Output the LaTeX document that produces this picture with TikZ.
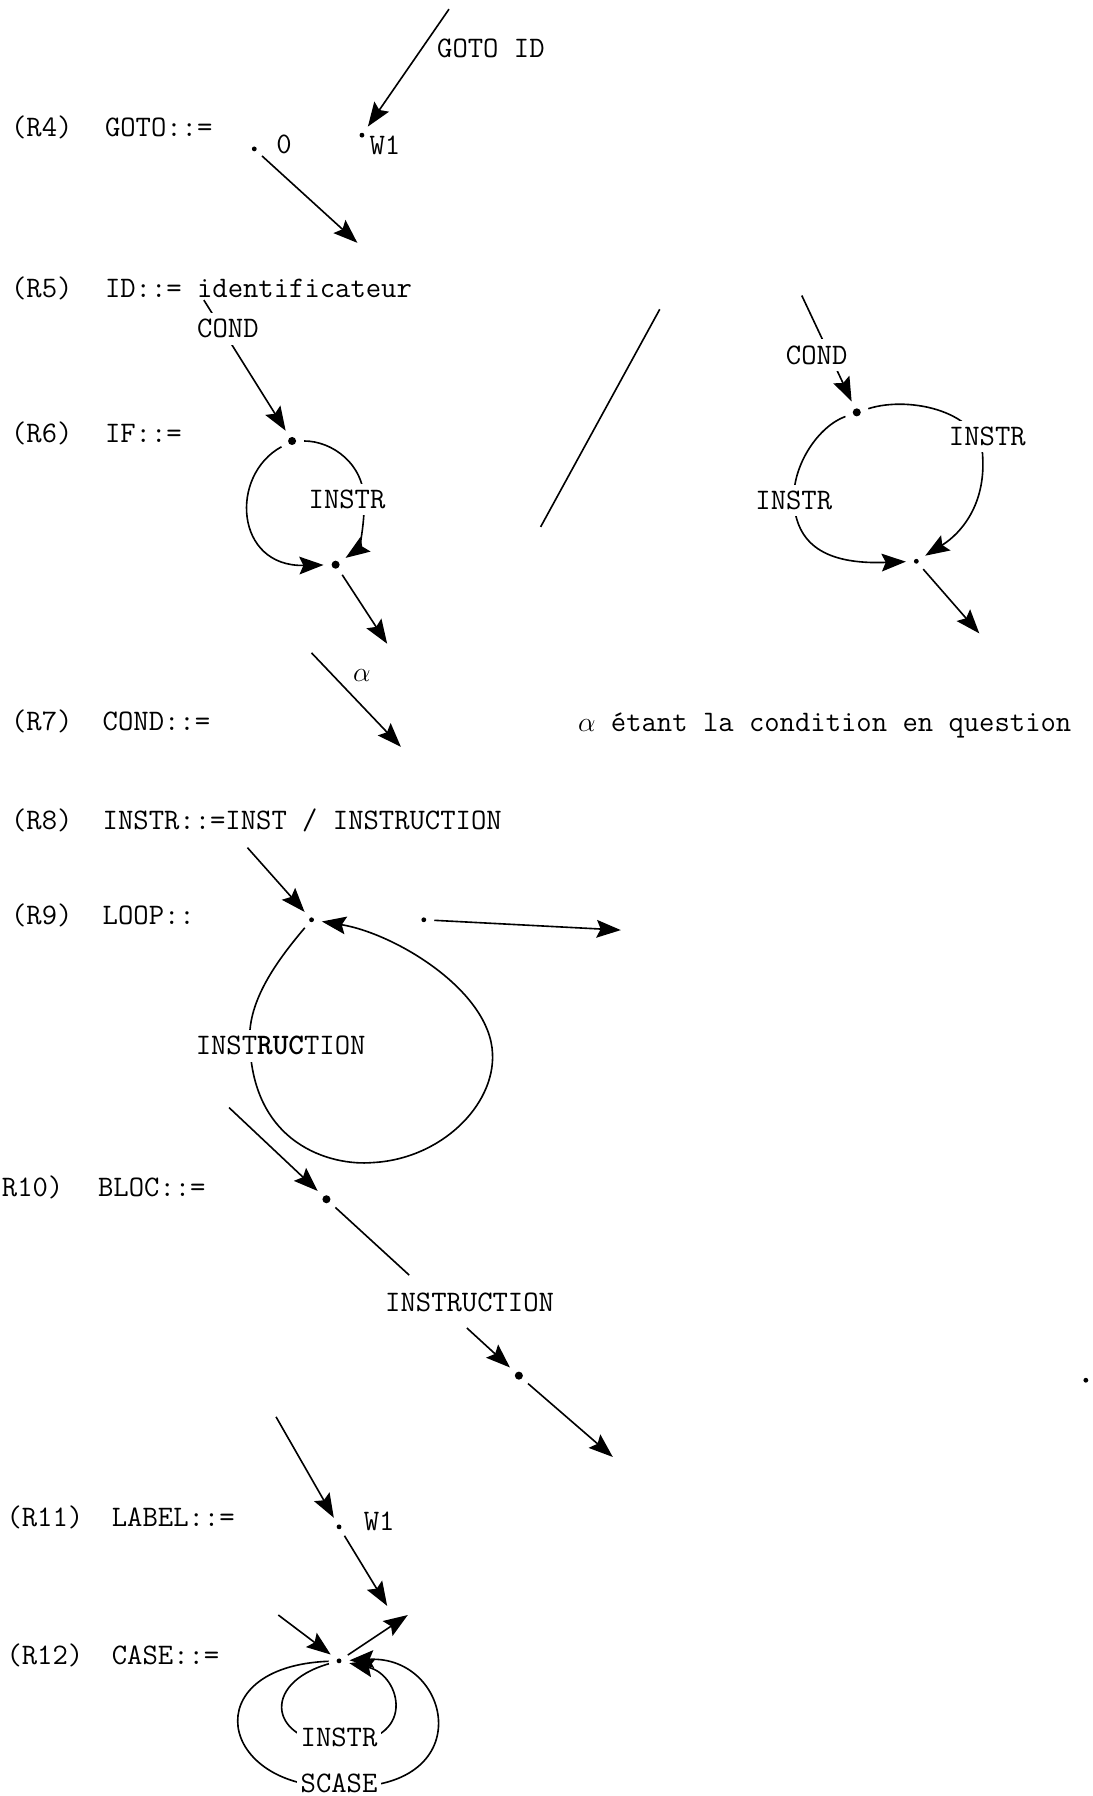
\documentclass[tikz,border=0pt]{standalone}
\usetikzlibrary{arrows.meta,calc}

\begin{document}
\begin{tikzpicture}[
    x=0.025cm, y=-0.025cm,
    txt/.style={font=\ttfamily\fontsize{18.5}{22}\selectfont, inner sep=1pt},
    rule/.style={txt, anchor=west},
    lab/.style={txt, fill=white, inner sep=4pt},
    dot/.style={circle, fill, inner sep=0pt, minimum size=3pt, outer sep=5pt},
    bigdot/.style={dot, minimum size=5pt},
    arrow/.style={-{Stealth[length=15pt, width=11pt, inset=2.5pt]}, line width=1pt},
    plain/.style={line width=1pt}
]
\useasboundingbox (0,0) rectangle (954,1568);

% (R4) GOTO
\node[rule] (r4) at (8,111) {(R4)};
\node[rule] (goto) at (90,111) {GOTO::=};
\node[dot] (g0) at (222,130) {};
\node[txt] (g0l) at (248,126) {0};
\node[dot] (gw) at (316,118) {};
\node[txt] (gwl) at (336,127) {W1};
\node[rule] (gotoid) at (380,42) {GOTO ID};
\coordinate (gin) at (392,8);
\coordinate (gout) at (312,212);
\draw[arrow] (gin) -- (gw);
\draw[arrow] (g0) -- (gout);

% (R5) ID
\node[rule] (r5) at (8,252) {(R5)};
\node[rule] (id) at (90,252) {ID::= identificateur};

% (R6) IF, first form
\node[rule] (r6) at (8,378) {(R6)};
\node[rule] (if) at (90,378) {IF::=};
\coordinate (ifc) at (178,262);
\node[bigdot] (if1) at (255,385) {};
\node[bigdot] (if2) at (293,493) {};
\coordinate (ifr) at (318,438);
\coordinate (ifo) at (338,562);
\draw[arrow] (ifc) -- (if1);
\draw[arrow] (if1) .. controls (290,385) and (318,405) .. (ifr) .. controls (318,465) and (312,480) .. (if2);
\draw[arrow] (if1) .. controls (200,415) and (205,495) .. (if2);
\draw[arrow] (if2) -- (ifo);
\node[lab] (ifcond) at (199,287) {COND};
\node[lab] (ifinstr) at (303,436) {INSTR};

% separator
\coordinate (s1) at (576,270);
\coordinate (s2) at (472,460);
\draw[plain] (s1) -- (s2);

% (R6) IF, second form
\coordinate (rc0) at (700,258);
\node[bigdot] (rd1) at (748,360) {};
\node[dot] (rd2) at (800,490) {};
\coordinate (rr) at (858,400);
\coordinate (rl) at (693,437);
\coordinate (rdo) at (855,553);
\draw[arrow] (rc0) -- (rd1);
\draw[arrow] (rd1) .. controls (795,345) and (858,360) .. (rr) .. controls (860,440) and (840,465) .. (rd2);
\draw[arrow] (rd1) .. controls (715,372) and (692,405) .. (rl) .. controls (695,475) and (720,493) .. (rd2);
\draw[arrow] (rd2) -- (rdo);
\node[lab] (rcond) at (713,310) {COND};
\node[lab] (rinr) at (862,381) {INSTR};
\node[lab] (rinl) at (693,437) {INSTR};

% (R7) COND
\node[rule] (r7) at (8,630) {(R7)};
\node[rule] (cond) at (88,630) {COND::=};
\coordinate (a1) at (272,570);
\coordinate (a2) at (350,652);
\draw[arrow] (a1) -- (a2);
\node[txt] (alpha) at (316,590) {$\alpha$};
\node[rule] (note) at (503,633) {$\alpha$ étant la condition en question};

% (R8) INSTR
\node[rule] (r8) at (8,716) {(R8)};
\node[rule] (instr) at (88,716) {INSTR::=INST / INSTRUCTION};

% (R9) LOOP
\node[rule] (r9) at (8,799) {(R9)};
\node[rule] (loop) at (88,799) {LOOP::};
\coordinate (l0) at (216,740);
\node[dot] (ld) at (272,803) {};
\node[dot] (le) at (370,803) {};
\coordinate (lw) at (218,905);
\coordinate (lb) at (325,1015);
\coordinate (lr) at (430,920);
\coordinate (lx) at (542,812);
\draw[arrow] (l0) -- (ld);
\draw[arrow] (ld) .. controls (245,835) and (218,870) .. (lw) .. controls (218,1000) and (290,1018) .. (lb) .. controls (385,1012) and (432,965) .. (lr) .. controls (428,865) and (345,815) .. (ld);
\draw[arrow] (le) -- (lx);
\node[lab] (linstr) at (245,913) {INST\textbf{RUC}TION};

% (R10) BLOC
\node[rule] (r10) at (0,1037) {R10)};
\node[rule] (bloc) at (84,1037) {BLOC::=};
\coordinate (b0) at (200,967);
\node[bigdot] (bd1) at (285,1047) {};
\node[bigdot] (bd2) at (453,1201) {};
\coordinate (bx) at (535,1272);
\draw[arrow] (b0) -- (bd1);
\draw[plain] (bd1) -- ($(bd1)!0.43!(bd2)$);
\draw[arrow] ($(bd1)!0.73!(bd2)$) -- (bd2);
\draw[arrow] (bd2) -- (bx);
\node[txt] (binstr) at (410,1137) {INSTRUCTION};
\node[dot] (speck) at (948,1205) {};

% (R11) LABEL
\node[rule] (r11) at (4,1325) {(R11)};
\node[rule] (label) at (96,1325) {LABEL::=};
\coordinate (lb0) at (241,1237);
\node[dot] (lbd) at (296,1333) {};
\node[txt] (lbw) at (331,1328) {W1};
\coordinate (lbx) at (338,1402);
\draw[arrow] (lb0) -- (lbd);
\draw[arrow] (lbd) -- (lbx);

% (R12) CASE
\node[rule] (r12) at (4,1445) {(R12)};
\node[rule] (case) at (96,1445) {CASE::=};
\coordinate (cs0) at (243,1410);
\node[dot] (csd) at (296,1450) {};
\coordinate (csx) at (356,1410);
\coordinate (cin) at (296,1522);
\coordinate (cout) at (296,1560);
\draw[arrow] (cs0) -- (csd);
\draw[arrow] (csd) -- (csx);
\draw[arrow] (csd) .. controls (226,1470) and (236,1522) .. (cin) .. controls (366,1522) and (350,1462) .. (csd);
\draw[arrow] (csd) .. controls (170,1455) and (190,1562) .. (cout) .. controls (420,1565) and (395,1445) .. (csd);
\node[lab, inner sep=2pt] (cinstr) at (296,1517) {INSTR};
\node[lab, inner sep=2pt] (cscase) at (296,1557) {SCASE};

\end{tikzpicture}
\end{document}
